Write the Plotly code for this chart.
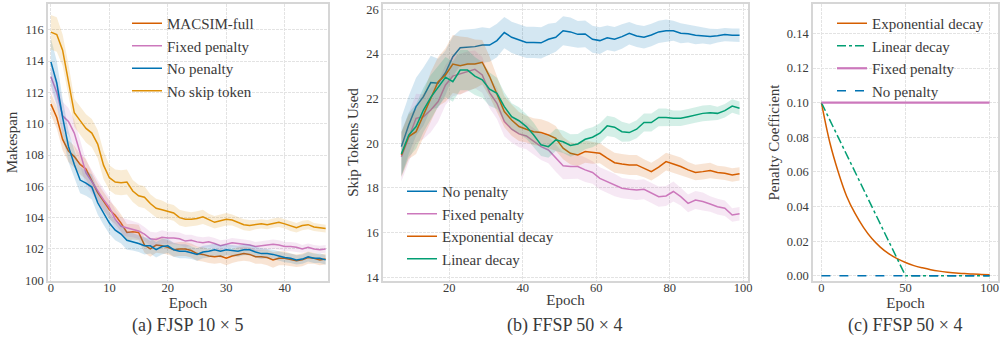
import plotly.graph_objects as go

# ---------------- Panel (a): FJSP 10x5 makespan ----------------
epochs_a = list(range(48))
macsim_full = [111.25,110.4,109.0,108.25,107.9,107.4,107.1,106.3,105.6,105.05,104.5,104.15,103.65,103.05,103.1,103.05,
               102.25,102.0,102.25,102.2,102.1,101.95,102.0,102.0,101.9,101.7,101.65,101.55,101.5,101.55,101.4,101.55,
               101.65,101.7,101.65,101.5,101.5,101.45,101.3,101.4,101.4,101.3,101.25,101.3,101.45,101.4,101.3,101.35]
macsim_full_hw = [0.7,0.7,0.7,0.7,0.7,0.65,0.65,0.6,0.6,0.6,0.6,0.55,0.55,0.55,0.5,0.5,0.5,0.5,0.5,0.5,0.45,0.45,0.45,0.45,
                  0.45,0.45,0.45,0.45,0.45,0.45,0.45,0.45,0.45,0.45,0.45,0.45,0.45,0.5,0.5,0.45,0.45,0.4,0.4,0.4,0.4,0.35,0.35,0.35]
fixed_a = [113.0,112.0,110.5,110.15,109.4,108.1,106.85,106.3,105.7,105.15,104.65,103.9,103.45,103.35,103.25,103.15,
           102.95,102.65,102.6,102.75,102.7,102.7,102.65,102.5,102.55,102.45,102.4,102.45,102.35,102.2,102.3,102.4,
           102.35,102.3,102.25,102.15,102.2,102.25,102.3,102.25,102.15,102.15,102.1,102.0,102.1,102.0,101.95,102.0]
fixed_a_hw = [0.9,0.9,0.9,0.85,0.85,0.8,0.8,0.75,0.7,0.7,0.65,0.6,0.55,0.55,0.5,0.5,0.45,0.45,0.45,0.45,0.4,0.4,0.4,0.4,
              0.35,0.35,0.35,0.35,0.35,0.35,0.3,0.3,0.3,0.3,0.3,0.3,0.3,0.3,0.3,0.3,0.3,0.3,0.3,0.25,0.25,0.25,0.25,0.25]
nopen_a = [113.95,112.6,110.4,108.55,107.4,106.4,106.2,105.95,104.95,104.3,103.65,103.2,102.95,102.55,102.45,102.35,
           102.2,102.2,101.95,102.15,102.2,101.95,101.85,101.85,101.75,101.65,101.8,101.85,101.95,101.85,101.95,101.9,
           101.85,101.95,101.95,101.8,101.7,101.7,101.65,101.55,101.45,101.4,101.3,101.35,101.5,101.4,101.4,101.3]
nopen_a_hw = [1.5,1.4,1.2,1.0,0.9,0.85,0.8,0.8,0.75,0.75,0.7,0.65,0.6,0.6,0.55,0.55,0.55,0.5,0.5,0.5,0.45,0.45,0.45,0.45,
              0.4,0.4,0.4,0.4,0.4,0.4,0.35,0.35,0.35,0.35,0.35,0.35,0.35,0.3,0.3,0.3,0.3,0.3,0.3,0.3,0.3,0.3,0.3,0.3]
noskip_a = [115.85,115.7,114.7,112.8,110.7,110.2,109.7,109.4,108.7,107.35,106.55,106.27,106.23,106.27,105.7,105.4,
            105.3,104.9,104.6,104.5,104.4,104.3,104.0,103.9,103.9,103.95,104.05,103.85,103.7,103.8,103.9,103.85,
            103.7,103.55,103.5,103.55,103.6,103.55,103.65,103.7,103.6,103.45,103.35,103.5,103.55,103.4,103.35,103.3]
noskip_a_hw = [1.1,1.1,1.0,1.0,0.9,0.9,0.9,0.9,0.9,0.9,0.8,0.8,0.8,0.8,0.7,0.7,0.7,0.6,0.6,0.6,0.5,0.5,0.5,0.5,
               0.45,0.45,0.45,0.4,0.4,0.4,0.4,0.35,0.35,0.35,0.35,0.3,0.3,0.3,0.3,0.3,0.3,0.3,0.3,0.3,0.3,0.25,0.25,0.25]

# ---------------- Panel (b): FFSP 50x4 skip tokens ----------------
epochs_b = list(range(7, 100, 2))
nopen_b = [19.85,20.82,21.64,22.09,22.72,22.69,23.16,23.88,24.28,24.3,24.33,24.4,24.4,24.6,24.96,24.75,24.63,24.52,
           24.52,24.5,24.66,24.75,25.04,24.99,24.88,24.9,24.66,24.6,24.73,24.66,24.78,24.93,24.81,24.75,24.85,24.99,
           25.04,25.04,24.93,24.91,24.84,24.82,24.78,24.82,24.87,24.84,24.84]
nopen_b_hw = [1.3,1.3,1.3,1.3,1.2,1.1,1.0,0.9,0.8,0.8,0.8,0.8,0.75,0.75,0.7,0.7,0.7,0.7,0.7,0.7,0.7,0.65,0.65,
              0.65,0.6,0.6,0.6,0.6,0.55,0.55,0.55,0.5,0.5,0.5,0.5,0.5,0.5,0.45,0.45,0.4,0.4,0.35,0.35,0.3,0.3,0.3,0.3]
fixed_b = [19.4,20.3,21.12,21.19,21.49,21.87,22.61,23.01,23.1,23.21,23.31,23.06,22.27,21.79,20.97,20.63,20.42,20.33,
           20.07,19.85,19.7,19.33,18.99,18.96,18.96,18.81,18.69,18.43,18.28,18.13,17.99,17.94,17.91,17.94,17.76,17.61,
           17.64,17.84,17.61,17.31,17.46,17.39,17.28,17.16,17.09,16.79,16.84]
fixed_b_hw = [1.1,1.1,1.1,1.0,1.0,0.9,0.9,0.9,0.9,0.9,0.85,0.8,0.7,0.7,0.65,0.6,0.6,0.6,0.6,0.6,0.6,0.6,0.6,0.55,
              0.55,0.55,0.5,0.5,0.5,0.5,0.45,0.45,0.45,0.45,0.45,0.45,0.45,0.45,0.4,0.4,0.4,0.4,0.35,0.35,0.35,0.3,0.3]
expo_b = [19.48,20.3,20.52,21.27,22.09,22.76,23.06,23.55,23.48,23.55,23.55,23.63,22.99,22.24,21.42,21.04,20.75,20.63,
          20.52,20.48,20.37,20.22,19.78,19.55,19.48,19.63,19.58,19.55,19.33,19.13,19.07,19.03,19.03,18.88,18.73,18.93,
          19.18,19.07,18.96,18.81,18.69,18.73,18.78,18.69,18.66,18.58,18.63]
expo_b_hw = [1.0,1.0,1.0,1.0,1.1,1.1,1.2,1.3,1.3,1.2,1.1,1.0,0.9,0.8,0.7,0.7,0.65,0.6,0.6,0.6,0.6,0.55,0.5,0.5,
             0.5,0.5,0.5,0.45,0.45,0.45,0.45,0.45,0.45,0.4,0.4,0.4,0.4,0.4,0.4,0.35,0.35,0.35,0.35,0.3,0.3,0.3,0.3]
linear_b = [19.52,20.37,20.75,21.49,22.06,22.54,22.96,22.76,23.28,23.28,23.01,22.84,22.42,22.24,21.64,21.19,21.01,
            20.75,20.37,19.93,19.85,20.15,20.07,19.9,19.97,20.18,20.27,20.45,20.78,20.72,20.52,20.48,20.63,20.93,
            20.93,21.16,21.16,21.12,21.12,21.19,21.27,21.34,21.37,21.34,21.46,21.67,21.57]
linear_b_hw = [1.0,1.0,1.0,1.0,1.0,0.9,0.9,0.9,0.9,0.9,0.85,0.8,0.75,0.7,0.65,0.6,0.6,0.55,0.55,0.5,0.5,0.5,0.5,0.5,
               0.45,0.45,0.45,0.45,0.45,0.45,0.45,0.4,0.4,0.4,0.4,0.4,0.4,0.35,0.35,0.35,0.35,0.35,0.35,0.3,0.3,0.3,0.3]

# ---------------- Panel (c): penalty schedules ----------------
epochs_c = list(range(0, 101, 5))
expo_c = [0.1,0.077,0.060,0.046,0.036,0.028,0.0215,0.0166,0.0128,0.0099,0.0077,0.0059,0.0046,0.0035,0.0027,
          0.0021,0.0016,0.0013,0.001,0.0008,0.0006]
linear_c_x = [0, 50, 100]
linear_c = [0.1, 0.0, 0.0]
fixed_c_x = [0, 100]
fixed_c = [0.1, 0.1]
nopen_c_x = [0, 100]
nopen_c = [0.0, 0.0]

captions = ["(a) FJSP 10 × 5", "(b) FFSP 50 × 4", "(c) FFSP 50 × 4"]

BLUE, ORANGE, GREEN, RED, PINK = "#0173b2", "#de8f05", "#029e73", "#d55e00", "#cc78bc"
FONT = "Liberation Serif"
TXT = "#3a3a3a"

def rgba(h, a):
    h = h.lstrip("#")
    return "rgba(%d,%d,%d,%.2f)" % (int(h[0:2], 16), int(h[2:4], 16), int(h[4:6], 16), a)

fig = go.Figure()

def band_line(x, y, hw, color, name, xa, ya, legend, group):
    upper = [v + h for v, h in zip(y, hw)]
    lower = [v - h for v, h in zip(y, hw)]
    fig.add_trace(go.Scatter(x=x + x[::-1], y=upper + lower[::-1], fill="toself", fillcolor=rgba(color, 0.17),
                             line=dict(width=0), hoverinfo="skip", showlegend=False, xaxis=xa, yaxis=ya))
    fig.add_trace(go.Scatter(x=x, y=y, mode="lines", line=dict(color=color, width=1.5), name=name,
                             xaxis=xa, yaxis=ya, legend=legend, legendgroup=group))

band_line(epochs_a, macsim_full, macsim_full_hw, RED, "MACSIM-full", "x", "y", "legend", "a1")
band_line(epochs_a, fixed_a, fixed_a_hw, PINK, "Fixed penalty", "x", "y", "legend", "a2")
band_line(epochs_a, nopen_a, nopen_a_hw, BLUE, "No penalty", "x", "y", "legend", "a3")
band_line(epochs_a, noskip_a, noskip_a_hw, ORANGE, "No skip token", "x", "y", "legend", "a4")

band_line(epochs_b, nopen_b, nopen_b_hw, BLUE, "No penalty", "x2", "y2", "legend2", "b1")
band_line(epochs_b, fixed_b, fixed_b_hw, PINK, "Fixed penalty", "x2", "y2", "legend2", "b2")
band_line(epochs_b, expo_b, expo_b_hw, RED, "Exponential decay", "x2", "y2", "legend2", "b3")
band_line(epochs_b, linear_b, linear_b_hw, GREEN, "Linear decay", "x2", "y2", "legend2", "b4")

fig.add_trace(go.Scatter(x=epochs_c, y=expo_c, mode="lines", line=dict(color=RED, width=1.5, shape="spline"),
                         name="Exponential decay", xaxis="x3", yaxis="y3", legend="legend3", legendgroup="c1"))
fig.add_trace(go.Scatter(x=linear_c_x, y=linear_c, mode="lines", line=dict(color=GREEN, width=1.5, dash="dashdot"),
                         name="Linear decay", xaxis="x3", yaxis="y3", legend="legend3", legendgroup="c2"))
fig.add_trace(go.Scatter(x=fixed_c_x, y=fixed_c, mode="lines", line=dict(color=PINK, width=2.2),
                         name="Fixed penalty", xaxis="x3", yaxis="y3", legend="legend3", legendgroup="c3"))
fig.add_trace(go.Scatter(x=nopen_c_x, y=nopen_c, mode="lines", line=dict(color=BLUE, width=1.5, dash="dash"),
                         name="No penalty", xaxis="x3", yaxis="y3", legend="legend3", legendgroup="c4"))

W, H = 1001, 345
ydom = [(H - 281) / H, (H - 4) / H]

def axis(domain, rng, tickvals, title, fmt=None, anchor=None, standoff=4, lab_off=0):
    d = dict(domain=domain, range=rng, tickvals=tickvals, showline=True, linecolor="#d6d6d6", linewidth=1.6,
             mirror=True, showgrid=True, gridcolor="#e3e3e3", griddash="2.5px,1.5px", gridwidth=1.2, zeroline=False,
             automargin=False,
             ticks="", tickfont=dict(family=FONT, size=12.5, color=TXT), ticklabelstandoff=lab_off,
             title=dict(text=title, font=dict(family=FONT, size=15, color=TXT), standoff=standoff),
             anchor=anchor)
    if fmt:
        d["tickformat"] = fmt
    return d

XOFF = -6
fig.update_layout(
    width=W, height=H, margin=dict(l=0, r=0, t=0, b=0, autoexpand=False),
    paper_bgcolor="white", plot_bgcolor="white", showlegend=True,
    xaxis=axis([48 / W, 328 / W], [-0.5, 47.4], [0, 10, 20, 30, 40], "Epoch", anchor="y", standoff=1, lab_off=XOFF),
    yaxis=axis(ydom, [99.95, 117.65], list(range(100, 117, 2)), "Makespan", anchor="x"),
    xaxis2=axis([383 / W, 748 / W], [2.0, 101.3], [20, 40, 60, 80, 100], "Epoch", anchor="y2", standoff=1, lab_off=XOFF),
    yaxis2=axis(ydom, [13.83, 26.24], list(range(14, 27, 2)), "Skip Tokens Used", anchor="x2"),
    xaxis3=axis([813 / W, 998 / W], [-5, 105], [0, 50, 100], "Epoch", anchor="y3", standoff=1, lab_off=XOFF),
    yaxis3=axis(ydom, [-0.003, 0.157], [0, 0.02, 0.04, 0.06, 0.08, 0.10, 0.12, 0.14], "Penalty Coefficient",
                fmt=".2f", anchor="x3"),
)

leg_common = dict(bgcolor="rgba(0,0,0,0)", borderwidth=0, font=dict(family=FONT, size=15, color=TXT),
                  tracegroupgap=0, xanchor="left", yanchor="top", itemclick=False)
fig.update_layout(
    legend=dict(x=127 / W, y=1 - 7 / H, **leg_common),
    legend2=dict(x=402 / W, y=1 - 175 / H, **leg_common),
    legend3=dict(x=832 / W, y=1 - 7 / H, **leg_common),
)

centers = [188 / W, 565 / W, 905 / W]
for c, t in zip(centers, captions):
    fig.add_annotation(x=c, y=(H - 325) / H, xref="paper", yref="paper", text=t, showarrow=False,
                       font=dict(family=FONT, size=18, color=TXT), xanchor="center", yanchor="middle")

fig.write_html("out.html", config={"displayModeBar": False},
               post_script="document.body.style.margin='0';document.body.style.overflow='hidden';")
